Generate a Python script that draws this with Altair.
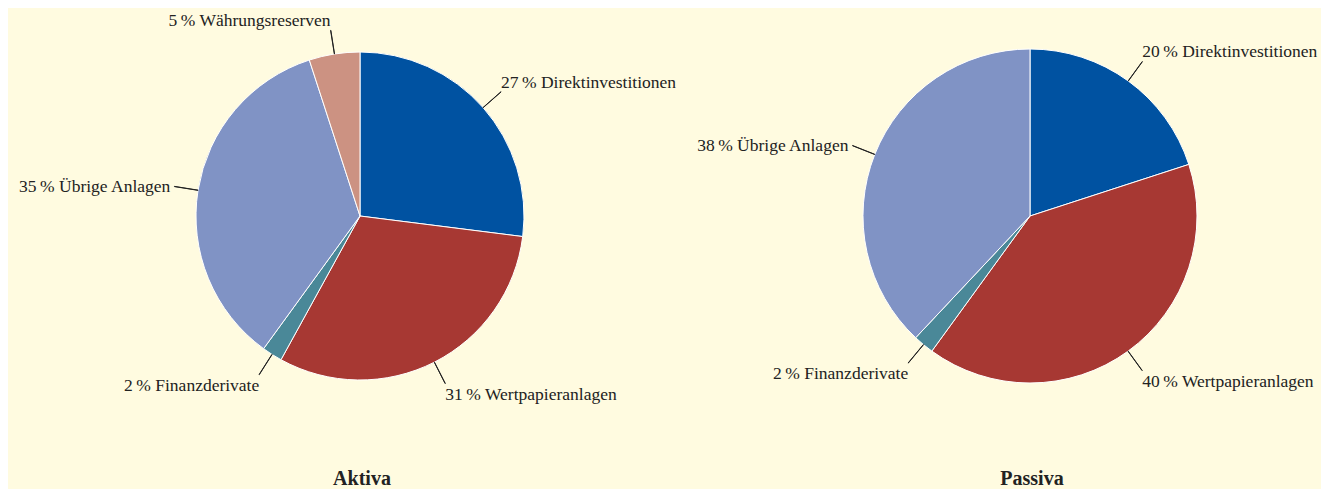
import math
import altair as alt
import pandas as pd

kategorien = ["Direktinvestitionen", "Wertpapieranlagen", "Finanzderivate",
              "Übrige Anlagen", "Währungsreserven"]
farben = ["#0052A1", "#A73833", "#4A8898", "#8093C5", "#CC9282"]
aktiva = [27, 31, 2, 35, 5]
passiva = [20, 40, 2, 38]
titel = ["Aktiva", "Passiva"]


def build(values):
    rows = []
    cum = 0
    for k, v in zip(kategorien, values):
        mid = cum + v / 2
        ang = mid / 100 * 2 * math.pi
        s, c = math.sin(ang), math.cos(ang)
        align = "left" if s > 0 else "right"
        if c > 0.5:
            base = "bottom"
        elif c < -0.5:
            base = "top"
        else:
            base = "middle"
        rows.append(dict(kategorie=k, wert=v, start=cum, end=cum + v, mid=mid,
                         mid2=mid + 0.02, label=f"{v}\u2009% {k}",
                         align=align, base=base))
        cum += v
    return pd.DataFrame(rows)


th = alt.Scale(domain=[0, 100])
col = alt.Color("kategorie:N", scale=alt.Scale(domain=kategorien, range=farben), legend=None)


def pie(values, title, cx, cy, R):
    df = build(values)
    layers = []
    layers.append(
        alt.Chart(df).mark_arc(outerRadius=R, stroke="white", strokeWidth=1).encode(
            theta=alt.Theta("start:Q", scale=th, stack=None),
            theta2="end:Q",
            color=col,
            x=alt.value(cx), y=alt.value(cy),
        )
    )
    layers.append(
        alt.Chart(df).mark_arc(innerRadius=R, outerRadius=R + 24, fillOpacity=0,
                               stroke="#222222", strokeWidth=1).encode(
            theta=alt.Theta("mid:Q", scale=th, stack=None),
            theta2="mid2:Q",
            x=alt.value(cx), y=alt.value(cy),
        )
    )
    combos = sorted(set(zip(df["align"], df["base"])))
    for a, b in combos:
        dx = -4 if (a == "right" and b == "middle") else 0
        dy = 2 if b == "top" else 0
        layers.append(
            alt.Chart(df).transform_filter(
                f"datum.align == '{a}' && datum.base == '{b}'"
            ).mark_text(radius=R + 24, align=a, baseline=b, dx=dx, dy=dy,
                        font="Liberation Serif", fontSize=17.5, color="#222222").encode(
                theta=alt.Theta("mid:Q", scale=th, stack=None),
                text="label:N",
                x=alt.value(cx), y=alt.value(cy),
            )
        )
    layers.append(
        alt.Chart(pd.DataFrame({"t": [title]})).mark_text(
            font="Liberation Serif", fontSize=20, fontWeight="bold",
            color="#222222", align="center", baseline="bottom").encode(
            text="t:N", x=alt.value(cx + 2), y=alt.value(481)
        )
    )
    return layers


layers = pie(aktiva, titel[0], 352, 208, 164) + pie(passiva, titel[1], 1022, 208, 167)

chart = alt.layer(*layers).properties(
    width=1313, height=481,
    autosize=alt.AutoSizeParams(type="none"),
    padding=0,
    background="#FFFBE0",
).configure_view(stroke=None)

chart.save("out.html", embed_options={"renderer": "svg", "actions": False})
